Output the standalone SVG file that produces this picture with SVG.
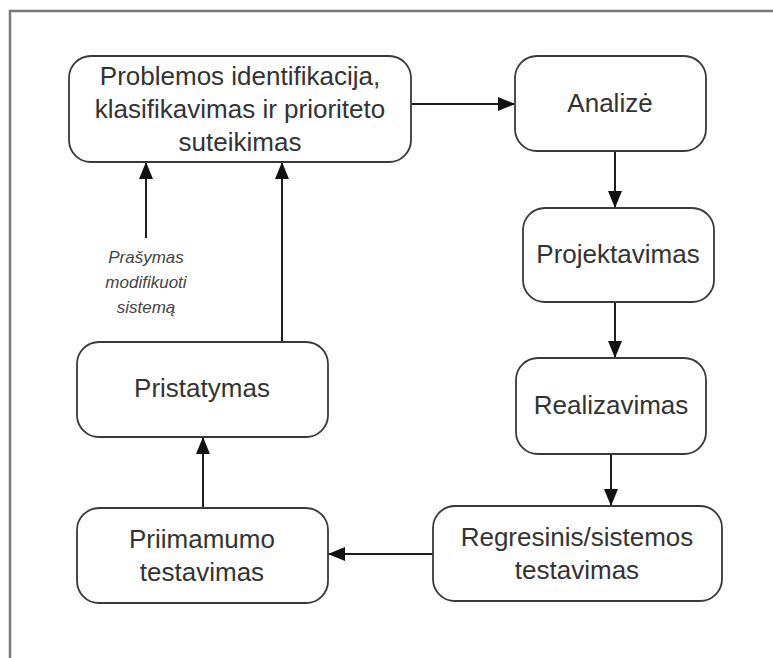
<svg xmlns="http://www.w3.org/2000/svg" width="773" height="658" viewBox="0 0 773 658">
  <style>
    .box { fill: #ffffff; stroke: #3a3a3a; stroke-width: 1.8; }
    .lbl { font-family: "Liberation Sans", Arial, sans-serif; font-size: 26px; fill: #333333; text-anchor: middle; }
    .note { font-family: "Liberation Sans", Arial, sans-serif; font-size: 17px; font-style: italic; fill: #444444; text-anchor: middle; }
    .edge { fill: none; stroke: #1e1e1e; stroke-width: 2; marker-end: url(#arrow); }
  </style>
  <defs>
    <marker id="arrow" markerUnits="userSpaceOnUse" markerWidth="20" markerHeight="16" refX="17" refY="7" orient="auto">
      <path d="M0,0 L17,7 L0,14 Z" fill="#111111"/>
    </marker>
  </defs>

  <rect width="773" height="658" fill="#ffffff"/>
  <!-- outer frame -->
  <path d="M10,662 L10,11 L777,11" fill="none" stroke="#7a7a7a" stroke-width="2.5"/>

  <g id="connectors">
    <line class="edge" x1="411" y1="104" x2="515" y2="104"/>
    <line class="edge" x1="615" y1="151" x2="615" y2="208"/>
    <line class="edge" x1="615" y1="302" x2="615" y2="358"/>
    <line class="edge" x1="611" y1="454" x2="611" y2="506"/>
    <line class="edge" x1="433" y1="554" x2="328" y2="554"/>
    <line class="edge" x1="203" y1="508" x2="203" y2="437"/>
    <line class="edge" x1="282" y1="342" x2="282" y2="162"/>
    <line class="edge" x1="146" y1="238" x2="146" y2="162"/>
  </g>

  <g id="n-problem">
    <rect class="box" x="69" y="56" width="342" height="106" rx="22"/>
    <text class="lbl" x="240" y="84.5">Problemos identifikacija,</text>
    <text class="lbl" x="240" y="117.5">klasifikavimas ir prioriteto</text>
    <text class="lbl" x="240" y="150.5">suteikimas</text>
  </g>

  <g id="n-analize">
    <rect class="box" x="515" y="56" width="191" height="95" rx="22"/>
    <text class="lbl" x="610" y="112">Analizė</text>
  </g>

  <g id="n-projektavimas">
    <rect class="box" x="523" y="208" width="191" height="94" rx="22"/>
    <text class="lbl" x="618" y="263">Projektavimas</text>
  </g>

  <g id="n-realizavimas">
    <rect class="box" x="516" y="358" width="190" height="96" rx="22"/>
    <text class="lbl" x="611" y="414">Realizavimas</text>
  </g>

  <g id="n-regresinis">
    <rect class="box" x="433" y="506" width="289" height="95" rx="22"/>
    <text class="lbl" x="577" y="546">Regresinis/sistemos</text>
    <text class="lbl" x="577" y="579">testavimas</text>
  </g>

  <g id="n-priimamumo">
    <rect class="box" x="77" y="508" width="251" height="95" rx="22"/>
    <text class="lbl" x="202" y="548">Priimamumo</text>
    <text class="lbl" x="202" y="581">testavimas</text>
  </g>

  <g id="n-pristatymas">
    <rect class="box" x="77" y="342" width="251" height="95" rx="22"/>
    <text class="lbl" x="202" y="397">Pristatymas</text>
  </g>

  <g id="note-request">
    <text class="note" x="146" y="263">Prašymas</text>
    <text class="note" x="146" y="288">modifikuoti</text>
    <text class="note" x="146" y="313">sistemą</text>
  </g>
</svg>
